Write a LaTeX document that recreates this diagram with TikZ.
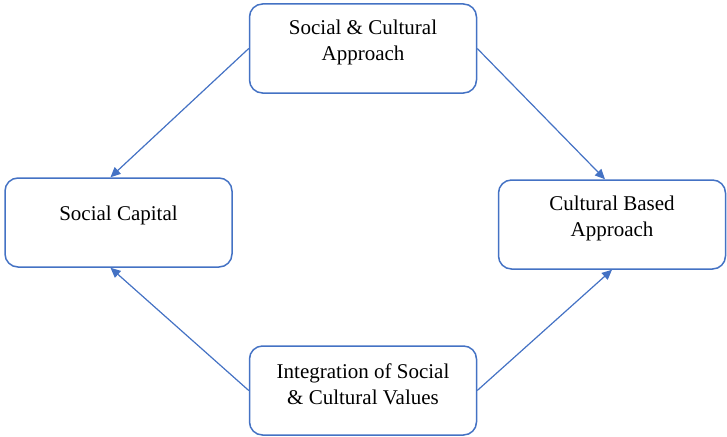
\documentclass[tikz,border=0pt]{standalone}
\usepackage{fontspec}
\setmainfont{Liberation Serif}
\usetikzlibrary{arrows.meta}
\definecolor{wordblue}{HTML}{4472C4}
\begin{document}
\begin{tikzpicture}[x=1pt,y=1pt,
  box/.style={draw=wordblue, line width=1.5pt, rounded corners=13pt, fill=white,
    minimum width=227pt, minimum height=89pt, inner sep=0pt},
  lbl/.style={align=center, font=\fontsize{21}{26}\selectfont, inner sep=0pt},
  conn/.style={draw=wordblue, line width=1.2pt, -{Triangle[length=10pt,width=9pt]}}]
\useasboundingbox (0,0) rectangle (727,-436);
\node[box] (top) at (363,-48.5) {};
\node[box] (left) at (118.5,-222.5) {};
\node[box] (right) at (612,-224.5) {};
\node[box] (bot) at (363,-390.5) {};
\node[lbl] (toptext) at (363,-42) {Social \& Cultural\\Approach};
\node[lbl] (lefttext) at (118.5,-215) {Social Capital};
\node[lbl] (righttext) at (612,-218.5) {Cultural Based\\Approach};
\node[lbl] (bottext) at (363,-384.5) {Integration of Social\\\& Cultural Values};
\draw[conn] (top.west) -- ([xshift=-8pt]left.north);
\draw[conn] (top.east) -- ([xshift=-7pt]right.north);
\draw[conn] (bot.west) -- ([xshift=-8pt]left.south);
\draw[conn] (bot.east) -- (right.south);
\end{tikzpicture}
\end{document}
